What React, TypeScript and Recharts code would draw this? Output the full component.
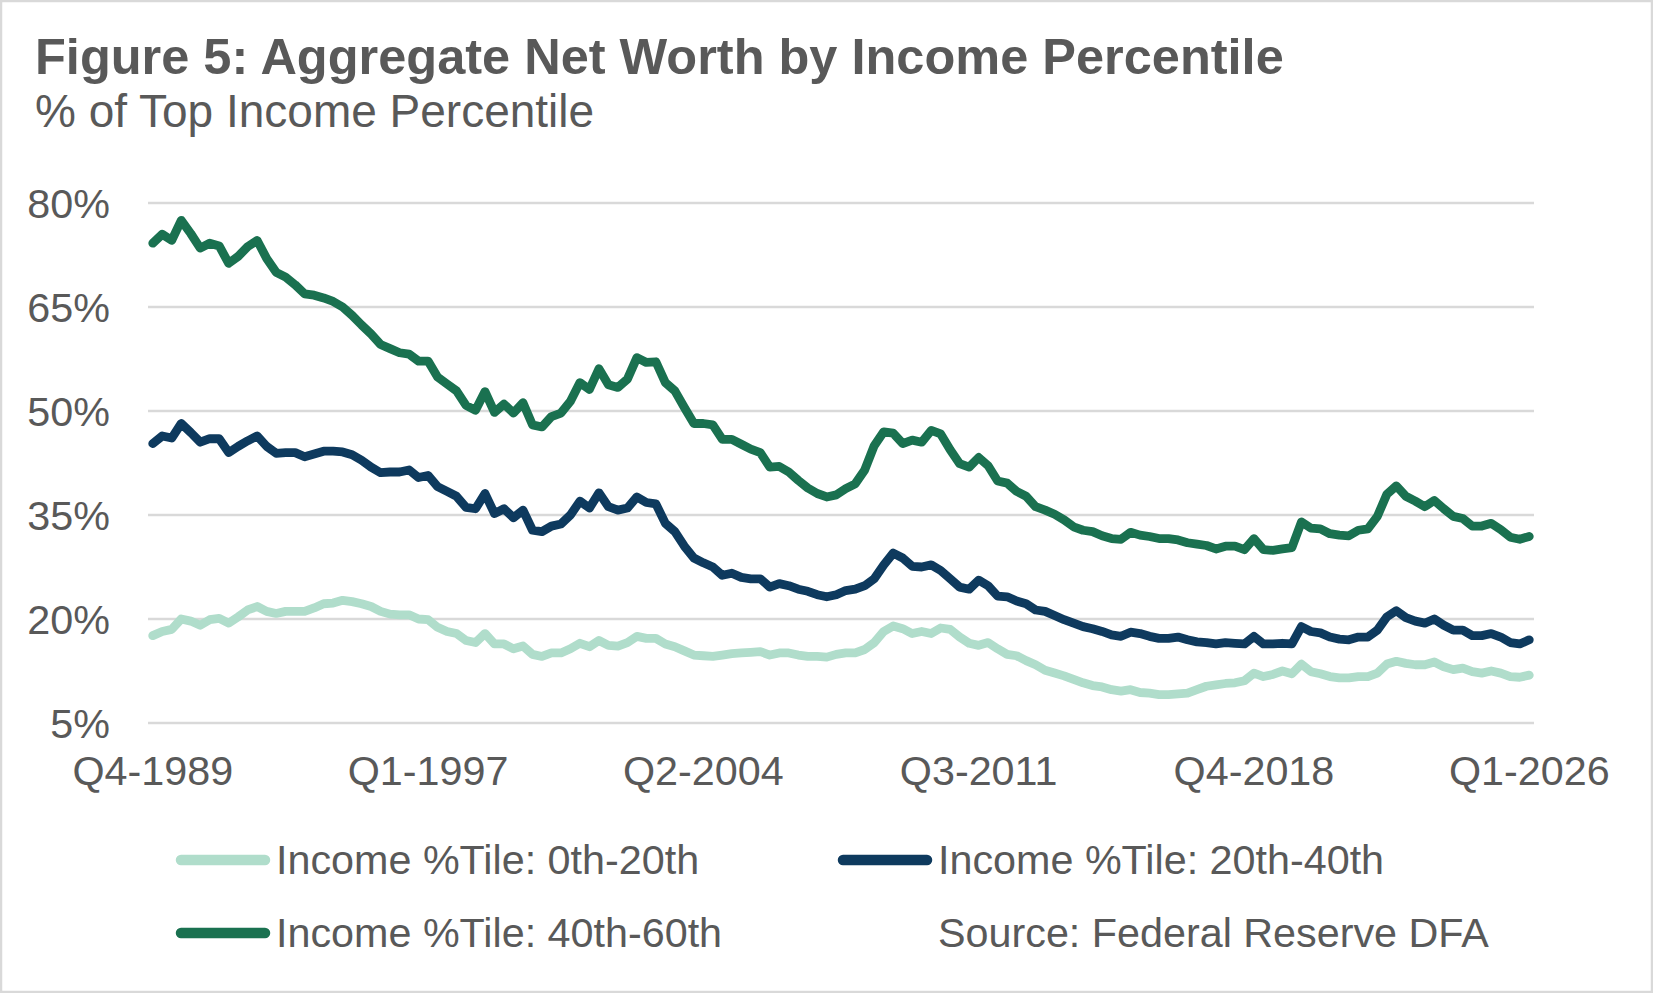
import React from "react";
import { LineChart, Line, XAxis, YAxis, CartesianGrid } from "recharts";

// ---- Data ----
const firstYear = 1989;
const firstQuarter = 4;

const income0to20: number[] = [
  17.6, 18.2, 18.5, 20.0, 19.7, 19.1, 19.9, 20.1, 19.4, 20.3, 21.3, 21.8, 21.1, 20.8, 21.1, 21.1, 21.1, 21.6, 22.2, 22.3,
  22.7, 22.5, 22.2, 21.8, 21.1, 20.7, 20.6, 20.6, 20.0, 19.9, 18.8, 18.2, 17.9, 16.9, 16.6, 17.9, 16.4,
  16.4, 15.7, 16.1, 14.9, 14.6, 15.1, 15.1, 15.7, 16.5, 16.0, 16.9, 16.2, 16.1, 16.6, 17.5, 17.2, 17.2, 16.4, 16.0,
  15.4, 14.8, 14.7, 14.6, 14.8, 15.0, 15.1, 15.2, 15.3, 14.8, 15.1, 15.1, 14.8, 14.6, 14.6, 14.5, 14.9, 15.1,
  15.1, 15.6, 16.6, 18.2, 19.0, 18.6, 17.9, 18.2, 17.9, 18.7, 18.5, 17.4, 16.5, 16.2, 16.6, 15.7, 14.9, 14.7, 14.0,
  13.4, 12.6, 12.2, 11.8, 11.3, 10.8, 10.4, 10.2, 9.8, 9.6, 9.8, 9.4, 9.3, 9.1, 9.1, 9.2, 9.3, 9.8,
  10.3, 10.5, 10.7, 10.8, 11.1, 12.2, 11.7, 12.0, 12.5, 12.1, 13.5, 12.4, 12.1, 11.7, 11.5, 11.5, 11.7, 11.7, 12.2,
  13.5, 13.9, 13.6, 13.4, 13.4, 13.8, 13.1, 12.7, 12.9, 12.4, 12.2, 12.5, 12.2, 11.7, 11.6, 11.9,
];

const income20to40: number[] = [
  45.3, 46.4, 46.1, 48.2, 46.9, 45.5, 46.0, 46.0, 44.0, 44.9, 45.7, 46.4, 44.9, 43.9, 44.0, 44.0, 43.4, 43.8, 44.2, 44.2,
  44.1, 43.7, 42.9, 41.9, 41.1, 41.2, 41.2, 41.5, 40.4, 40.7, 39.1, 38.4, 37.7, 36.1, 35.9, 38.1, 35.2,
  35.9, 34.6, 35.7, 32.8, 32.6, 33.4, 33.7, 35.0, 37.0, 36.0, 38.2, 36.2, 35.7, 36.0, 37.6, 36.8, 36.6, 33.8, 32.6,
  30.5, 28.8, 28.1, 27.5, 26.3, 26.6, 26.0, 25.8, 25.8, 24.6, 25.1, 24.8, 24.3, 24.0, 23.5, 23.2, 23.5, 24.1,
  24.3, 24.8, 25.8, 27.8, 29.5, 28.8, 27.6, 27.5, 27.8, 27.0, 25.8, 24.6, 24.3, 25.6, 24.8, 23.3, 23.2, 22.6, 22.2,
  21.3, 21.1, 20.5, 19.9, 19.4, 18.9, 18.6, 18.2, 17.7, 17.5, 18.1, 17.9, 17.5, 17.2, 17.2, 17.4, 17.0, 16.7,
  16.6, 16.4, 16.6, 16.5, 16.4, 17.5, 16.4, 16.4, 16.5, 16.4, 18.9, 18.2, 18.0, 17.4, 17.1, 17.0, 17.4, 17.4, 18.4,
  20.3, 21.2, 20.2, 19.7, 19.4, 20.0, 19.1, 18.4, 18.4, 17.6, 17.6, 17.9, 17.4, 16.6, 16.4, 17.0,
];

const income40to60: number[] = [
  74.2, 75.5, 74.6, 77.5, 75.6, 73.5, 74.2, 73.8, 71.3, 72.3, 73.7, 74.6, 72.0, 70.0, 69.3, 68.2, 66.9, 66.7, 66.3, 65.8,
  65.0, 63.8, 62.4, 61.1, 59.6, 59.0, 58.4, 58.2, 57.2, 57.2, 54.9, 53.9, 52.9, 50.8, 50.1, 52.8, 49.8,
  51.0, 49.7, 51.2, 48.0, 47.7, 49.2, 49.7, 51.4, 54.1, 53.1, 56.1, 53.8, 53.4, 54.6, 57.7, 57.0, 57.1, 54.1, 52.9,
  50.5, 48.2, 48.2, 48.0, 45.9, 45.9, 45.2, 44.5, 44.0, 41.9, 42.0, 41.2, 40.0, 38.9, 38.1, 37.6, 37.9, 38.8,
  39.5, 41.5, 45.0, 47.0, 46.8, 45.3, 45.8, 45.5, 47.2, 46.7, 44.4, 42.4, 41.9, 43.3, 42.1, 39.9, 39.6, 38.4, 37.7,
  36.2, 35.7, 35.1, 34.3, 33.3, 32.8, 32.6, 32.0, 31.6, 31.5, 32.5, 32.1, 31.9, 31.6, 31.6, 31.4, 31.0, 30.8,
  30.6, 30.1, 30.5, 30.5, 30.0, 31.6, 30.0, 29.9, 30.1, 30.3, 34.0, 33.1, 33.0, 32.3, 32.1, 32.0, 32.8, 33.0, 34.8,
  38.0, 39.2, 37.7, 37.0, 36.2, 37.1, 35.9, 34.8, 34.5, 33.4, 33.4, 33.8, 32.9, 31.8, 31.5, 31.9,
];

const yTicks: number[] = [5, 20, 35, 50, 65, 80];

const seriesNames: string[] = [
  "Income %Tile: 0th-20th",
  "Income %Tile: 20th-40th",
  "Income %Tile: 40th-60th",
];
const seriesColors: string[] = ["#b0ddcb", "#0e3a5e", "#1a7150"];

const quarterLabels: string[] = income0to20.map((_, i) => {
  const k = firstQuarter - 1 + i;
  return `Q${(k % 4) + 1}-${firstYear + Math.floor(k / 4)}`;
});

const data = quarterLabels.map((q, i) => ({
  q,
  a: income0to20[i],
  b: income20to40[i],
  c: income40to60[i],
}));

const FONT = '"Liberation Sans", Arial, Helvetica, sans-serif';
const TEXT = "#595959";

export default function App() {
  return (
    <div
      style={{
        position: "absolute",
        left: 0,
        top: 0,
        width: 1653,
        height: 993,
        background: "#ffffff",
        fontFamily: FONT,
      }}
    >
      <div style={{ position: "absolute", left: 0, top: 0 }}>
        <LineChart
          width={1653}
          height={993}
          data={data}
          margin={{ top: 203, right: 119, bottom: 210, left: 48 }}
        >
          <CartesianGrid vertical={false} stroke="#d9d9d9" strokeWidth={2.5} />
          <XAxis
            dataKey="q"
            interval={28}
            axisLine={false}
            tickLine={false}
            tickMargin={27}
            height={60}
            padding={{ left: 4.75, right: 4.75 }}
            tick={{ fill: TEXT, fontSize: 41.3, fontFamily: FONT }}
          />
          <YAxis
            type="number"
            domain={[5, 80]}
            ticks={yTicks}
            width={100}
            axisLine={false}
            tickLine={false}
            tickMargin={32}
            tickFormatter={(v: number) => `${v}%`}
            tick={{ fill: TEXT, fontSize: 41.3, fontFamily: FONT }}
          />
          <Line
            dataKey="a"
            stroke={seriesColors[0]}
            strokeWidth={8.8}
            dot={false}
            activeDot={false}
            strokeLinejoin="round"
            strokeLinecap="round"
            isAnimationActive={false}
          />
          <Line
            dataKey="b"
            stroke={seriesColors[1]}
            strokeWidth={8.8}
            dot={false}
            activeDot={false}
            strokeLinejoin="round"
            strokeLinecap="round"
            isAnimationActive={false}
          />
          <Line
            dataKey="c"
            stroke={seriesColors[2]}
            strokeWidth={8.8}
            dot={false}
            activeDot={false}
            strokeLinejoin="round"
            strokeLinecap="round"
            isAnimationActive={false}
          />
        </LineChart>
      </div>
      <svg
        width={1653}
        height={993}
        style={{ position: "absolute", left: 0, top: 0, pointerEvents: "none" }}
      >
        <rect x={1} y={1} width={1651} height={991} fill="none" stroke="#d9d9d9" strokeWidth={2.5} />
        <text x={35} y={74} fill={TEXT} fontSize={50.5} fontWeight="bold" fontFamily={FONT}>
          Figure 5: Aggregate Net Worth by Income Percentile
        </text>
        <text x={35} y={127} fill={TEXT} fontSize={46} fontFamily={FONT}>
          % of Top Income Percentile
        </text>
        {[
          { x: 176, y: 860, i: 0 },
          { x: 838, y: 860, i: 1 },
          { x: 176, y: 933, i: 2 },
        ].map((it) => (
          <g key={it.i}>
            <line
              x1={it.x + 5}
              x2={it.x + 89}
              y1={it.y}
              y2={it.y}
              stroke={seriesColors[it.i]}
              strokeWidth={10.5}
              strokeLinecap="round"
            />
            <text x={it.x === 838 ? 938 : 276} y={it.y + 14} fill={TEXT} fontSize={41.3} fontFamily={FONT}>
              {seriesNames[it.i]}
            </text>
          </g>
        ))}
        <text x={938} y={947} fill={TEXT} fontSize={41.3} fontFamily={FONT}>
          Source: Federal Reserve DFA
        </text>
      </svg>
    </div>
  );
}
